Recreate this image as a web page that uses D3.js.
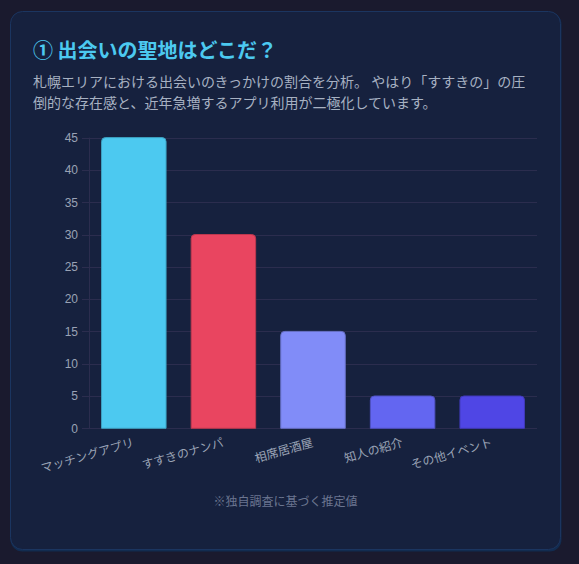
<!DOCTYPE html>
<html lang="ja">
<head>
<meta charset="utf-8">
<script src="https://cdn.jsdelivr.net/npm/d3@7"></script>
<style>
  html, body { margin: 0; padding: 0; background: #1a1a2e; }
  svg { display: block; }
</style>
</head>
<body>
<svg id="chart" width="579" height="564"></svg>
<script>
const categories = ["マッチングアプリ", "すすきのナンパ", "相席居酒屋", "知人の紹介", "その他イベント"];
const values = [45, 30, 15, 5, 5];
const barColors = ["#4cc9f0", "#e94560", "#818cf8", "#6366f1", "#4f46e5"];
const yTicks = [0, 5, 10, 15, 20, 25, 30, 35, 40, 45];
const titleText = "① 出会いの聖地はどこだ？";
const subtitleLines = [
  "札幌エリアにおける出会いのきっかけの割合を分析。 やはり「すすきの」の圧",
  "倒的な存在感と、近年急増するアプリ利用が二極化しています。"
];
const footnote = "※独自調査に基づく推定値";

const svg = d3.select("#chart");
const CJK = "'Noto Sans CJK JP', 'Noto Sans', sans-serif";
const TICKF = "'Liberation Sans', 'Noto Sans CJK JP', sans-serif";

// card
svg.append("rect").attr("x", 10.5).attr("y", 12.5).attr("width", 551).attr("height", 539)
  .attr("rx", 12).attr("fill", "#0f3460").attr("opacity", 0.7);
svg.append("rect").attr("x", 10.5).attr("y", 11.5).attr("width", 550).attr("height", 538)
  .attr("rx", 12).attr("fill", "#16213e").attr("stroke", "#1b3560").attr("stroke-width", 1);

// title
svg.append("text").attr("x", 33).attr("y", 58)
  .attr("font-family", CJK).attr("font-weight", 700).attr("font-size", 20)
  .attr("fill", "#4cc9f0").text(titleText);

// subtitle
subtitleLines.forEach((t, i) => {
  svg.append("text").attr("x", 33).attr("y", 87 + i * 21)
    .attr("font-family", CJK).attr("font-size", 14)
    .attr("fill", "#a7b1c2").text(t);
});

// scales
const x = d3.scaleBand().domain(categories).range([89, 537]).paddingInner(0.28).paddingOuter(0.14);
const y = d3.scaleLinear().domain([0, 45]).range([428.3, 137.6]);

// grid
const g = svg.append("g");
g.selectAll("line.grid").data(yTicks).join("line")
  .attr("x1", 82).attr("x2", 537)
  .attr("y1", d => Math.round(y(d)) + 0.5).attr("y2", d => Math.round(y(d)) + 0.5)
  .attr("stroke", "#2b2d4e").attr("stroke-width", 1);
g.append("line").attr("x1", 89.5).attr("x2", 89.5).attr("y1", y(45)).attr("y2", y(0))
  .attr("stroke", "#2b2d4e");

// y axis labels
const yAxis = d3.axisLeft(y).tickValues(yTicks).tickSize(0).tickPadding(0);
const ya = svg.append("g").attr("transform", "translate(78,0)").call(yAxis);
ya.select(".domain").remove();
ya.selectAll("text").attr("font-family", TICKF).attr("font-size", 12).attr("fill", "#9aa3b5");

// bars with rounded top
function barPath(x0, y0, w, h, r) {
  r = Math.min(r, h, w / 2);
  return `M${x0},${y0 + h}V${y0 + r}Q${x0},${y0} ${x0 + r},${y0}H${x0 + w - r}Q${x0 + w},${y0} ${x0 + w},${y0 + r}V${y0 + h}Z`;
}
svg.append("g").selectAll("path").data(categories).join("path")
  .attr("d", (c, i) => barPath(x(c), y(values[i]), x.bandwidth(), y(0) - y(values[i]), 4))
  .attr("fill", (c, i) => barColors[i])
  .attr("stroke", (c, i) => d3.color(barColors[i]).darker(0.6))
  .attr("stroke-width", 1);

// x labels
const xa = svg.append("g");
xa.selectAll("text").data(categories).join("text")
  .attr("transform", c => `translate(${x(c) + x.bandwidth() / 2},${443}) rotate(-16)`)
  .attr("text-anchor", "end").attr("dominant-baseline", "middle")
  .attr("font-family", CJK).attr("font-size", 12).attr("fill", "#9aa3b5")
  .text(c => c);

// footnote
svg.append("text").attr("x", 285.5).attr("y", 506).attr("text-anchor", "middle")
  .attr("font-family", CJK).attr("font-size", 12).attr("fill", "#6b7590").text(footnote);
</script>
</body>
</html>
